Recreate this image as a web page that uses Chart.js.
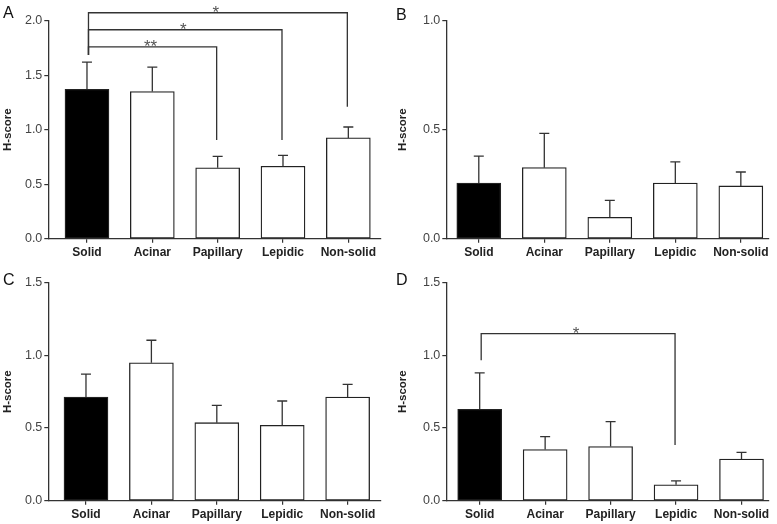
<!DOCTYPE html>
<html lang="en">
<head>
  <meta charset="UTF-8" />
  <title>H-score by subtype</title>
  <script src="https://cdn.jsdelivr.net/npm/chart.js"></script>
  <style>
    body {
      margin: 0;
      background: #fff;
      font-family: "Liberation Sans", Arial, sans-serif;
    }
    .panel {
      position: absolute;
    }
    .letter {
      position: absolute;
      font-size: 16px;
      color: #111;
      line-height: 1;
    }
  </style>
</head>
<body>

  <div class="panel" style="left:0;top:0"><canvas id="chartA" width="388" height="262"></canvas></div>
  <div class="panel" style="left:388px;top:0"><canvas id="chartB" width="389" height="262"></canvas></div>
  <div class="panel" style="left:0;top:262px"><canvas id="chartC" width="388" height="262"></canvas></div>
  <div class="panel" style="left:388px;top:262px"><canvas id="chartD" width="389" height="262"></canvas></div>

  <div class="letter" style="left:3px;top:5px">A</div>
  <div class="letter" style="left:396px;top:7px">B</div>
  <div class="letter" style="left:3px;top:272px">C</div>
  <div class="letter" style="left:396px;top:272px">D</div>

  <script>
    const categorie = ["Solid", "Acinar", "Papillary", "Lepidic", "Non-solid"];
    const coloriBarre = ["#000000", "#ffffff", "#ffffff", "#ffffff", "#ffffff"];

    // valori medi ed errori
    const mediaA = [1.37, 1.35, 0.65, 0.665, 0.925];
    const erroreA = [0.25, 0.225, 0.105, 0.10, 0.10];
    const mediaB = [0.255, 0.326, 0.098, 0.255, 0.242];
    const erroreB = [0.124, 0.157, 0.078, 0.097, 0.064];
    const mediaC = [0.713, 0.949, 0.537, 0.519, 0.713];
    const erroreC = [0.158, 0.155, 0.119, 0.167, 0.087];
    const mediaD = [0.629, 0.352, 0.373, 0.110, 0.286];
    const erroreD = [0.251, 0.089, 0.171, 0.027, 0.046];

    // barre di significatività: da, a, base sinistra, altezza, discesa destra, stelle
    const significA = [
      { da: 0, a: 2, base: 1.685, alto: 1.76, fine: 0.905, stelle: "**" },
      { da: 0, a: 3, base: 1.685, alto: 1.917, fine: 0.905, stelle: "*" },
      { da: 0, a: 4, base: 1.685, alto: 2.073, fine: 1.21, stelle: "*" }
    ];
    const significD = [
      { da: 0, a: 3, base: 0.967, alto: 1.15, fine: 0.384, stelle: "*" }
    ];

    Chart.defaults.font.family = "'Liberation Sans', Arial, sans-serif";
    Chart.defaults.color = "#333";

    const linea = "#333";

    // disegna barre di errore e parentesi di significatività
    const pluginErrori = {
      id: "errori",
      afterDatasetsDraw(chart, args, opts) {
        const { ctx } = chart;
        const x = chart.scales.x, y = chart.scales.y;
        ctx.save();
        ctx.strokeStyle = linea;
        ctx.lineWidth = 1.3;
        opts.errori.forEach((e, i) => {
          const m = opts.medie[i];
          const px = x.getPixelForValue(i);
          const y0 = y.getPixelForValue(m);
          const y1 = y.getPixelForValue(m + e);
          ctx.beginPath();
          ctx.moveTo(px, y0);
          ctx.lineTo(px, y1);
          ctx.moveTo(px - 5, y1);
          ctx.lineTo(px + 5, y1);
          ctx.stroke();
        });
        (opts.parentesi || []).forEach(b => {
          const x0 = x.getPixelForValue(b.da) + 1.5;
          const x1 = x.getPixelForValue(b.a) - 1;
          const yb = y.getPixelForValue(b.base);
          const yt = y.getPixelForValue(b.alto);
          const yf = y.getPixelForValue(b.fine);
          ctx.beginPath();
          ctx.moveTo(x0, yb);
          ctx.lineTo(x0, yt);
          ctx.lineTo(x1, yt);
          ctx.lineTo(x1, yf);
          ctx.stroke();
          ctx.fillStyle = "#555";
          ctx.font = "17px 'Liberation Sans', Arial, sans-serif";
          ctx.textAlign = "center";
          ctx.textBaseline = "alphabetic";
          ctx.fillText(b.stelle, (x0 + x1) / 2 - 2, yt + 5);
        });
        ctx.restore();
      }
    };

    function creaGrafico(id, medie, errori, yMax, xMin, xMax, larghezzaAsse, padTitolo, parentesi) {
      const ctx = document.getElementById(id).getContext("2d");
      return new Chart(ctx, {
        type: "bar",
        data: {
          datasets: [{
            data: medie.map((v, i) => ({ x: i, y: v })),
            backgroundColor: coloriBarre,
            borderColor: "#222",
            borderWidth: 1.3,
            borderSkipped: false,
            barThickness: 44
          }]
        },
        options: {
          responsive: false,
          animation: false,
          layout: { padding: { top: 20.7, right: id === "chartA" || id === "chartC" ? 7 : 8, left: 0, bottom: 0 } },
          plugins: {
            legend: { display: false },
            tooltip: { enabled: false },
            errori: { medie: medie, errori: errori, parentesi: parentesi }
          },
          scales: {
            x: {
              type: "linear",
              min: xMin,
              max: xMax,
              offset: false,
              grid: { offset: false, drawOnChartArea: false, drawTicks: true, tickLength: 4, color: linea, lineWidth: 1.2 },
              border: { color: linea, width: 1.3 },
              afterBuildTicks: s => { s.ticks = categorie.map((c, i) => ({ value: i })); },
              afterFit: s => { s.height = 23.3; },
              ticks: {
                autoSkip: false,
                maxRotation: 0,
                padding: 3,
                color: "#222",
                font: { size: 12, weight: "bold" },
                callback: v => categorie[v]
              }
            },
            y: {
              min: 0,
              max: yMax,
              grid: { drawOnChartArea: false, drawTicks: true, tickLength: 4, color: linea, lineWidth: 1.2 },
              border: { color: linea, width: 1.3 },
              afterFit: s => { s.width = larghezzaAsse; },
              ticks: {
                stepSize: 0.5,
                padding: 2,
                color: "#444",
                font: { size: 12.5 },
                callback: v => v.toFixed(1)
              },
              title: {
                display: true,
                text: "H-score",
                color: "#222",
                padding: { top: padTitolo, bottom: 0 },
                font: { size: 11.5, weight: "bold" }
              }
            }
          }
        },
        plugins: [pluginErrori]
      });
    }

    creaGrafico("chartA", mediaA, erroreA, 2.0, -0.592, 4.5, 48.3, 1, significA);
    creaGrafico("chartB", mediaB, erroreB, 1.0, -0.496, 4.43, 58.3, 8, []);
    creaGrafico("chartC", mediaC, erroreC, 1.5, -0.576, 4.51, 48.3, 1, []);
    creaGrafico("chartD", mediaD, erroreD, 1.5, -0.51, 4.42, 58.3, 8, significD);
  </script>

</body>
</html>
